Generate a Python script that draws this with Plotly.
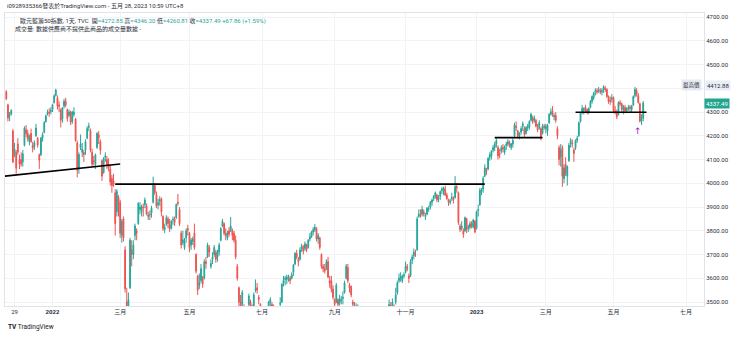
import pandas as pd
import plotly.graph_objects as go

# ---- Euro Stoxx 50 daily bars (TVC), 2021-11-22 .. 2023-05-26 ----
HOLIDAYS = ["2021-12-24", "2021-12-31", "2022-04-15", "2022-04-18", "2022-12-26",
            "2023-04-07", "2023-04-10", "2023-05-01"]
FIRST_BAR = "2021-11-22"
LAST_BAR = "2023-05-26"

OPEN = [
    4385, 4330, 4283, 4290, 4220, 4125, 4130,  # 2021-11
    4165, 4100, 4100, 4090, 4160, 4225, 4210, 4175, 4210, 4160, 4155, 4200, 4190, 4120, 4120, 4190, 4215, 4260, 4292, 4300, 4302,  # 2021-12
    4310, 4340, 4370, 4360, 4330, 4310, 4270, 4325, 4345, 4310, 4285, 4300, 4260, 4290, 4270, 4170, 4060, 4150, 4130, 4130, 4140,  # 2022-01
    4190, 4235, 4220, 4130, 4095, 4080, 4150, 4205, 4175, 4095, 4045, 4110, 4100, 4080, 4060, 4020, 4010, 3960, 3880, 3940,  # 2022-02
    3920, 3780, 3850, 3720, 3500, 3460, 3560, 3720, 3700, 3780, 3800, 3830, 3890, 3880, 3900, 3910, 3905, 3860, 3870, 3875, 3920, 3990, 3950,  # 2022-03
    3910, 3925, 3935, 3860, 3805, 3830, 3850, 3825, 3810, 3845, 3850, 3855, 3920, 3890, 3790, 3750, 3730, 3770, 3810,  # 2022-04
    3790, 3740, 3755, 3790, 3700, 3610, 3570, 3590, 3600, 3600, 3670, 3690, 3730, 3650, 3680, 3700, 3710, 3690, 3710, 3760, 3820, 3830,  # 2022-05
    3790, 3770, 3800, 3800, 3800, 3790, 3760, 3650, 3560, 3500, 3490, 3480, 3430, 3450, 3490, 3500, 3480, 3460, 3550, 3560, 3520, 3490,  # 2022-06
    3440, 3455, 3460, 3390, 3430, 3500, 3490, 3470, 3450, 3440, 3410, 3490, 3500, 3580, 3595, 3595, 3600, 3600, 3600, 3625, 3660,  # 2022-07
    3705, 3680, 3680, 3725, 3730, 3725, 3740, 3730, 3765, 3775, 3795, 3805, 3810, 3765, 3770, 3700, 3650, 3640, 3640, 3670, 3590, 3590, 3555,  # 2022-08
    3510, 3500, 3510, 3495, 3505, 3515, 3540, 3600, 3645, 3570, 3565, 3500, 3475, 3480, 3460, 3440, 3410, 3350, 3345, 3310, 3300, 3280,  # 2022-09
    3310, 3370, 3440, 3445, 3420, 3370, 3355, 3345, 3320, 3390, 3410, 3470, 3485, 3480, 3480, 3500, 3540, 3590, 3600, 3590, 3610,  # 2022-10
    3625, 3650, 3610, 3610, 3675, 3695, 3705, 3720, 3860, 3870, 3870, 3880, 3860, 3870, 3890, 3900, 3920, 3935, 3945, 3950, 3935, 3945,  # 2022-11
    3970, 3965, 3975, 3950, 3930, 3920, 3935, 3935, 3940, 3985, 3960, 3820, 3810, 3800, 3800, 3850, 3810, 3815, 3830, 3815, 3840,  # 2022-12
    3810, 3885, 3910, 3965, 3975, 4030, 4055, 4060, 4110, 4115, 4140, 4150, 4165, 4150, 4125, 4135, 4150, 4130, 4160, 4165, 4170, 4150,  # 2023-01
    4165, 4200, 4240, 4220, 4200, 4215, 4240, 4230, 4210, 4235, 4235, 4265, 4275, 4265, 4265, 4235, 4235, 4230, 4210, 4240,  # 2023-02
    4230, 4220, 4255, 4290, 4305, 4280, 4285, 4230, 4150, 4110, 4150, 4020, 4080, 4030, 4095, 4170, 4170, 4140, 4150, 4180, 4200, 4260, 4300,  # 2023-03
    4305, 4320, 4310, 4300, 4320, 4345, 4360, 4385, 4390, 4390, 4390, 4385, 4395, 4400, 4395, 4365, 4350, 4355,  # 2023-04
    4360, 4305, 4300, 4290, 4340, 4335, 4310, 4320, 4305, 4315, 4320, 4310, 4330, 4370, 4390, 4370, 4335, 4262, 4272.85,  # 2023-05
]
HIGH = [
    4392, 4335, 4300, 4312, 4228, 4170, 4140,
    4190, 4120, 4130, 4140, 4240, 4245, 4225, 4205, 4230, 4175, 4180, 4250, 4195, 4125, 4195, 4215, 4262, 4290, 4310, 4315, 4320,
    4335, 4375, 4398, 4370, 4345, 4315, 4320, 4355, 4360, 4315, 4310, 4305, 4305, 4320, 4275, 4180, 4130, 4205, 4170, 4140, 4185,
    4240, 4255, 4230, 4145, 4115, 4125, 4215, 4220, 4185, 4100, 4110, 4130, 4115, 4105, 4075, 4035, 4040, 3975, 3975, 3950,
    3930, 3850, 3860, 3735, 3560, 3540, 3770, 3760, 3760, 3830, 3810, 3920, 3920, 3910, 3915, 3940, 3915, 3880, 3885, 3905, 4028, 4000, 3965,
    3935, 3945, 3940, 3865, 3830, 3865, 3860, 3850, 3845, 3860, 3860, 3915, 3955, 3900, 3800, 3800, 3770, 3810, 3825,
    3795, 3770, 3775, 3830, 3705, 3615, 3620, 3660, 3610, 3680, 3690, 3750, 3740, 3680, 3710, 3740, 3720, 3720, 3750, 3815, 3850, 3835,
    3810, 3800, 3815, 3858, 3810, 3800, 3780, 3660, 3565, 3530, 3550, 3490, 3470, 3480, 3535, 3510, 3490, 3540, 3595, 3580, 3530, 3495,
    3475, 3480, 3470, 3430, 3505, 3520, 3500, 3490, 3470, 3450, 3480, 3520, 3580, 3610, 3610, 3615, 3615, 3610, 3625, 3660, 3710,
    3720, 3690, 3730, 3745, 3740, 3755, 3745, 3765, 3790, 3800, 3815, 3828, 3815, 3790, 3775, 3705, 3660, 3660, 3680, 3690, 3610, 3610, 3570,
    3515, 3580, 3515, 3530, 3525, 3545, 3590, 3660, 3660, 3580, 3570, 3510, 3500, 3495, 3490, 3450, 3415, 3375, 3380, 3330, 3305, 3330,
    3345, 3480, 3450, 3460, 3425, 3380, 3370, 3360, 3390, 3450, 3460, 3510, 3500, 3515, 3490, 3560, 3590, 3620, 3625, 3615, 3625,
    3670, 3660, 3620, 3680, 3700, 3725, 3720, 3860, 3890, 3890, 3905, 3890, 3875, 3900, 3905, 3925, 3935, 3950, 3965, 3955, 3950, 3970,
    3985, 3985, 3990, 3960, 3935, 3935, 3960, 3945, 4030, 4000, 3965, 3830, 3840, 3810, 3860, 3855, 3825, 3840, 3840, 3850, 3845,
    3885, 3910, 3980, 3980, 4030, 4080, 4065, 4110, 4130, 4140, 4160, 4175, 4190, 4160, 4145, 4160, 4165, 4160, 4175, 4185, 4180, 4170,
    4190, 4255, 4260, 4225, 4215, 4240, 4260, 4240, 4240, 4250, 4265, 4297, 4285, 4285, 4270, 4250, 4265, 4235, 4250, 4250,
    4250, 4250, 4295, 4315, 4325, 4295, 4300, 4240, 4160, 4165, 4160, 4080, 4110, 4075, 4170, 4190, 4185, 4150, 4185, 4200, 4260, 4300, 4330,
    4320, 4330, 4315, 4320, 4350, 4370, 4385, 4400, 4400, 4405, 4400, 4400, 4412.88, 4410, 4400, 4370, 4365, 4375,
    4365, 4325, 4310, 4345, 4350, 4340, 4330, 4330, 4320, 4330, 4330, 4330, 4370, 4405, 4400, 4380, 4340, 4290, 4346.20,
]
LOW = [
    4350, 4260, 4262, 4285, 4085, 4110, 4040,
    4120, 4060, 4070, 4070, 4155, 4195, 4175, 4160, 4170, 4130, 4140, 4195, 4150, 4060, 4115, 4175, 4210, 4255, 4285, 4280, 4290,
    4300, 4335, 4365, 4310, 4300, 4235, 4255, 4315, 4320, 4260, 4280, 4245, 4250, 4280, 4175, 4025, 4040, 4140, 4110, 4090, 4120,
    4185, 4220, 4130, 4070, 4075, 4060, 4145, 4165, 4120, 4010, 4040, 4090, 4060, 4050, 3990, 3960, 3985, 3780, 3860, 3860,
    3770, 3750, 3755, 3540, 3387, 3390, 3555, 3650, 3680, 3760, 3760, 3825, 3870, 3860, 3860, 3895, 3865, 3845, 3845, 3855, 3915, 3950, 3895,
    3890, 3905, 3860, 3800, 3790, 3820, 3810, 3795, 3805, 3825, 3820, 3850, 3905, 3820, 3725, 3740, 3720, 3750, 3780,
    3710, 3720, 3740, 3720, 3620, 3530, 3555, 3580, 3560, 3595, 3640, 3685, 3690, 3640, 3660, 3690, 3665, 3670, 3695, 3755, 3815, 3780,
    3760, 3760, 3775, 3795, 3760, 3750, 3680, 3590, 3480, 3460, 3470, 3400, 3410, 3430, 3480, 3440, 3430, 3455, 3540, 3535, 3490, 3430,
    3410, 3440, 3360, 3370, 3425, 3480, 3455, 3440, 3425, 3380, 3405, 3480, 3495, 3565, 3570, 3575, 3585, 3575, 3595, 3610, 3655,
    3680, 3650, 3675, 3710, 3700, 3715, 3710, 3725, 3755, 3770, 3780, 3795, 3755, 3745, 3720, 3640, 3625, 3620, 3635, 3600, 3560, 3540, 3510,
    3480, 3495, 3465, 3485, 3490, 3490, 3535, 3595, 3580, 3540, 3520, 3460, 3460, 3440, 3440, 3410, 3340, 3320, 3315, 3250, 3250, 3270,
    3300, 3365, 3420, 3420, 3370, 3345, 3320, 3330, 3280, 3370, 3405, 3460, 3465, 3470, 3450, 3490, 3530, 3580, 3585, 3580, 3600,
    3620, 3630, 3580, 3605, 3660, 3680, 3690, 3715, 3855, 3855, 3860, 3860, 3845, 3865, 3880, 3890, 3905, 3925, 3935, 3920, 3920, 3930,
    3955, 3950, 3945, 3930, 3905, 3910, 3925, 3915, 3935, 3960, 3825, 3795, 3800, 3770, 3795, 3790, 3795, 3805, 3810, 3810, 3790,
    3805, 3860, 3905, 3950, 3960, 4025, 4035, 4055, 4095, 4100, 4130, 4135, 4150, 4100, 4105, 4125, 4130, 4120, 4140, 4155, 4150, 4140,
    4150, 4195, 4220, 4190, 4185, 4205, 4220, 4195, 4205, 4220, 4225, 4260, 4250, 4255, 4235, 4215, 4225, 4180, 4205, 4225,
    4210, 4200, 4250, 4285, 4280, 4265, 4255, 4185, 4075, 4070, 3985, 4000, 4030, 3990, 4090, 4150, 4150, 4090, 4140, 4170, 4195, 4255, 4290,
    4290, 4300, 4290, 4290, 4315, 4335, 4350, 4370, 4375, 4380, 4375, 4370, 4380, 4385, 4360, 4335, 4330, 4340,
    4295, 4290, 4270, 4285, 4325, 4300, 4290, 4295, 4295, 4305, 4300, 4300, 4325, 4360, 4365, 4335, 4255, 4245, 4260.81,
]
CLOSE = [
    4356, 4275, 4286, 4306, 4090, 4143, 4063,
    4131, 4081, 4080, 4124, 4233, 4209, 4186, 4199, 4176, 4147, 4170, 4233, 4161, 4097, 4190, 4205, 4255, 4283, 4299, 4296, 4306,
    4331, 4367, 4392, 4325, 4324, 4265, 4318, 4345, 4330, 4272, 4300, 4257, 4300, 4299, 4180, 4055, 4121, 4165, 4144, 4121, 4175,
    4230, 4240, 4140, 4080, 4090, 4120, 4210, 4190, 4140, 4030, 4105, 4115, 4075, 4065, 4005, 3990, 3995, 3830, 3965, 3920,
    3790, 3840, 3770, 3556, 3445, 3510, 3760, 3700, 3740, 3820, 3790, 3915, 3900, 3902, 3898, 3930, 3870, 3866, 3867, 3895, 3995, 3960, 3903,
    3918, 3930, 3880, 3810, 3815, 3855, 3830, 3810, 3840, 3848, 3835, 3910, 3915, 3830, 3740, 3762, 3755, 3800, 3802,
    3730, 3760, 3765, 3730, 3630, 3550, 3580, 3640, 3575, 3670, 3662, 3740, 3710, 3662, 3690, 3730, 3680, 3710, 3740, 3810, 3840, 3790,
    3780, 3790, 3785, 3820, 3780, 3760, 3690, 3600, 3500, 3480, 3540, 3430, 3442, 3470, 3525, 3470, 3450, 3530, 3555, 3550, 3510, 3450,
    3455, 3460, 3370, 3420, 3500, 3510, 3470, 3465, 3460, 3390, 3475, 3495, 3575, 3590, 3600, 3605, 3605, 3590, 3615, 3655, 3705,
    3690, 3670, 3720, 3735, 3715, 3745, 3720, 3760, 3775, 3795, 3805, 3815, 3765, 3780, 3730, 3650, 3640, 3630, 3670, 3605, 3580, 3555, 3520,
    3490, 3570, 3490, 3515, 3510, 3520, 3580, 3650, 3590, 3560, 3530, 3490, 3485, 3450, 3470, 3425, 3350, 3340, 3325, 3280, 3275, 3320,
    3340, 3475, 3445, 3440, 3380, 3360, 3340, 3340, 3380, 3385, 3455, 3490, 3480, 3500, 3470, 3530, 3580, 3600, 3605, 3610, 3615,
    3650, 3640, 3600, 3670, 3690, 3710, 3705, 3850, 3870, 3865, 3890, 3870, 3865, 3895, 3892, 3920, 3930, 3945, 3960, 3930, 3940, 3965,
    3975, 3980, 3950, 3935, 3920, 3925, 3940, 3930, 3985, 3980, 3835, 3805, 3820, 3785, 3855, 3805, 3815, 3830, 3820, 3845, 3795,
    3880, 3890, 3970, 3972, 4020, 4065, 4050, 4105, 4120, 4135, 4150, 4165, 4180, 4115, 4120, 4150, 4145, 4155, 4165, 4175, 4160, 4165,
    4180, 4245, 4235, 4200, 4210, 4230, 4250, 4205, 4235, 4240, 4260, 4290, 4260, 4275, 4240, 4225, 4255, 4190, 4240, 4235,
    4240, 4245, 4290, 4300, 4290, 4285, 4265, 4200, 4100, 4140, 4030, 4065, 4040, 4070, 4160, 4180, 4165, 4125, 4180, 4190, 4255, 4295, 4315,
    4315, 4310, 4300, 4315, 4345, 4365, 4380, 4390, 4385, 4395, 4385, 4390, 4405, 4395, 4365, 4345, 4345, 4360,
    4305, 4300, 4280, 4340, 4335, 4310, 4320, 4305, 4315, 4320, 4315, 4325, 4365, 4395, 4375, 4340, 4262, 4269.63, 4337.49,
]

# drawn support / resistance lines: (start date, price) -> (end date, price)
TREND_LINES = [
    (("2021-11-19", 4030), ("2022-03-01", 4081)),
    (("2022-02-24", 3996), ("2023-01-09", 3996)),
    (("2023-01-17", 4192), ("2023-02-27", 4192)),
    (("2023-03-27", 4299), ("2023-05-30", 4299)),
]
ARROW = ("2023-05-23", 4218)

TICK_DATES = ["2021-11-29", "2022-01-03", "2022-03-01", "2022-05-02", "2022-07-01", "2022-09-01",
              "2022-11-01", "2023-01-02", "2023-03-01", "2023-05-02", "2023-07-03"]
TICK_TEXT = ["29", "<b>2022</b>", "三月", "五月", "七月", "九月",
             "十一月", "<b>2023</b>", "三月", "五月", "七月"]
PRICE_TICKS = list(range(3500, 4701, 100))

HIGHEST = 4412.88
LAST_PRICE = 4337.49

UP = "#26a69a"
DOWN = "#ef5350"
TEXT = "#2a2e39"
FONT = "Roboto, 'Noto Sans CJK TC', sans-serif"

# session calendar: weekdays without exchange holidays, continued into the future
cal = pd.bdate_range("2021-11-15", "2023-07-31")
cal = cal[~cal.isin(pd.to_datetime(HOLIDAYS))]
origin = cal.get_loc(pd.Timestamp("2022-01-03"))
pos = {d.strftime("%Y-%m-%d"): i - origin for i, d in enumerate(cal)}

bars = cal[(cal >= pd.Timestamp(FIRST_BAR)) & (cal <= pd.Timestamp(LAST_BAR))]
bar_x = [pos[d.strftime("%Y-%m-%d")] for d in bars]
assert len(bar_x) == len(OPEN) == len(HIGH) == len(LOW) == len(CLOSE)

fig = go.Figure()
fig.add_trace(go.Candlestick(
    x=bar_x, open=OPEN, high=HIGH, low=LOW, close=CLOSE,
    increasing=dict(line=dict(color=UP, width=1), fillcolor=UP),
    decreasing=dict(line=dict(color=DOWN, width=1), fillcolor=DOWN),
    whiskerwidth=0, hoverinfo="skip",
))

for (d0, p0), (d1, p1) in TREND_LINES:
    fig.add_trace(go.Scatter(
        x=[pos[d0], pos[d1]], y=[p0, p1], mode="lines",
        line=dict(color="black", width=1.7), hoverinfo="skip",
    ))

# layout geometry (pixels)
W, H = 740, 337
L, R, T, B = 5, 36, 13, 31
plot_w = W - L - R
plot_h = H - T - B


def px_x(px):
    return (px - L) / plot_w


def px_y(py):
    return (H - B - py) / plot_h


annotations = [
    dict(text="i0928935366發表於TradingView.com - 五月 28, 2023 10:59 UTC+8",
         x=px_x(5), y=px_y(6), xanchor="left", yanchor="middle",
         font=dict(size=6, color=TEXT)),
    dict(text=("歐元藍籌50指數, 1天, TVC &nbsp;開<span style='color:%s'>=4272.85</span> "
               "高<span style='color:%s'>=4346.20</span> 低<span style='color:%s'>=4260.81</span> "
               "收<span style='color:%s'>=4337.49 +67.86 (+1.59%%)</span>") % (UP, UP, UP, UP),
         x=px_x(18), y=px_y(21), xanchor="left", yanchor="middle",
         font=dict(size=6, color=TEXT)),
    dict(text="成交量: 數據供應商不提供此商品的成交量數據 -",
         x=px_x(13), y=px_y(28.5), xanchor="left", yanchor="middle",
         font=dict(size=6, color=TEXT)),
    dict(text="<b>TV</b> TradingView", x=px_x(6), y=px_y(327),
         xanchor="left", yanchor="middle", font=dict(size=6.5, color="#131722")),
    # highest-price marker on the price scale
    dict(text="最高價", x=px_x(691), yref="y", y=HIGHEST, xanchor="center", yanchor="middle",
         bgcolor="#e6e9ef", borderpad=1, font=dict(size=5.5, color=TEXT)),
    dict(text=f"{HIGHEST:.2f}", x=px_x(705), yref="y", y=HIGHEST, xanchor="left",
         yanchor="middle", bgcolor="#e9eef6", borderpad=1, font=dict(size=6, color=TEXT)),
    # last price tag
    dict(text=f"{LAST_PRICE:.2f}", x=px_x(704), yref="y", y=LAST_PRICE, xanchor="left",
         yanchor="middle", bgcolor="#22a68f", borderpad=1, font=dict(size=6, color="white")),
    # up-arrow marker under the last bars
    dict(text="↑", x=pos[ARROW[0]], xref="x", y=ARROW[1], yref="y",
         xanchor="center", yanchor="middle",
         font=dict(size=9, color="#9c27b0", family="DejaVu Sans")),
]
for a in annotations:
    a.setdefault("xref", "paper")
    a.setdefault("yref", "paper")
    a.setdefault("showarrow", False)

# the 4400 tick sits under the highest-price tag, so its label stays blank
price_text = ["" if v == 4400 else f"{v:.2f}" for v in PRICE_TICKS]

fig.update_layout(
    width=W, height=H,
    margin=dict(l=L, r=R, t=T, b=B),
    paper_bgcolor="white", plot_bgcolor="white",
    showlegend=False, hovermode=False,
    font=dict(family=FONT, size=6, color=TEXT),
    annotations=annotations,
    xaxis=dict(
        range=[(5 - 52.5) / 1.65, (704 - 52.5) / 1.65],
        tickvals=[pos[d] for d in TICK_DATES], ticktext=TICK_TEXT,
        showgrid=True, gridcolor="#f2f3f7", gridwidth=1,
        showline=True, linecolor="#e0e3eb", linewidth=1, mirror=True,
        ticks="", tickfont=dict(size=6, color=TEXT),
        rangeslider=dict(visible=False), zeroline=False, fixedrange=True,
    ),
    yaxis=dict(
        side="right",
        range=[3500 - 4 / 0.2375, 4700 + 4 / 0.2375],
        tickvals=PRICE_TICKS, ticktext=price_text,
        showgrid=True, gridcolor="#f2f3f7", gridwidth=1,
        showline=True, linecolor="#e0e3eb", linewidth=1, mirror=True,
        ticks="", tickfont=dict(size=6, color=TEXT), zeroline=False, fixedrange=True,
    ),
)

fig.write_html("out.html")
